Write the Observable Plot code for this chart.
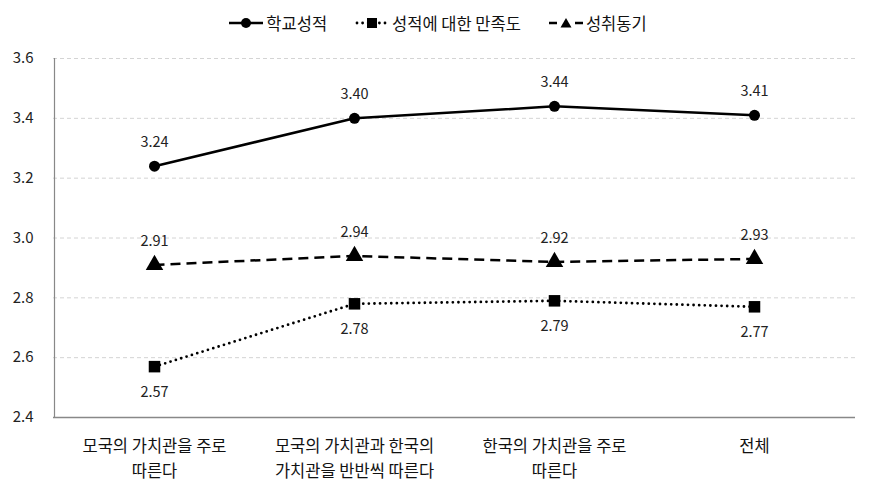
<!DOCTYPE html>
<html><head><meta charset="utf-8">
<script src="https://cdn.jsdelivr.net/npm/d3@7"></script>
<script src="https://cdn.jsdelivr.net/npm/@observablehq/plot@0.6"></script>
<style>
body{margin:0;background:#fff;font-family:"Malgun Gothic","Noto Sans CJK KR",sans-serif;}
#legend{height:45px;display:flex;justify-content:center;align-items:center;gap:28px;font-size:16.5px;color:#111;padding-left:4px;box-sizing:border-box;}
#legend span.item{display:flex;align-items:center;gap:3px;}
</style></head>
<body>
<div id="legend"></div>
<div id="chart"></div>
<script>
const categories = ["모국의 가치관을 주로\n따른다","모국의 가치관과 한국의\n가치관을 반반씩 따른다","한국의 가치관을 주로\n따른다","전체"];
const seriesNames = ["학교성적","성적에 대한 만족도","성취동기"];
const grades = [3.24, 3.40, 3.44, 3.41];
const satisfaction = [2.57, 2.78, 2.79, 2.77];
const motivation = [2.91, 2.94, 2.92, 2.93];
const yTicks = [2.4, 2.6, 2.8, 3.0, 3.2, 3.4, 3.6];

const styles = {
  "학교성적": {dash: null, width: 2.5, cap: "butt", symbol: "circle", r: 5.5, labelDy: -24},
  "성적에 대한 만족도": {dash: "0,5.6", width: 2.8, cap: "round", symbol: "square", r: 6.5, labelDy: 26},
  "성취동기": {dash: "10,6", width: 2.5, cap: "butt", symbol: "triangle", r: 6.5, labelDy: -24}
};
const valuesBySeries = [grades, satisfaction, motivation];
const data = [];
seriesNames.forEach((s, i) => categories.forEach((c, j) => data.push({series: s, cat: c, value: valuesBySeries[i][j]})));

// legend
const legend = document.getElementById("legend");
seriesNames.forEach(s => {
  const st = styles[s];
  const item = document.createElement("span"); item.className = "item";
  let marker, lineSvg;
  if (st.symbol === "circle") marker = `<circle cx="17" cy="9" r="5" fill="#000"/>`;
  else if (st.symbol === "square") marker = `<rect x="12" y="4" width="10" height="10" fill="#000"/>`;
  else marker = `<path d="M17,4 L22.5,13.5 L11.5,13.5 Z" fill="#000"/>`;
  if (st.symbol === "square") lineSvg = `<line x1="2" x2="32" y1="9" y2="9" stroke="#000" stroke-width="2.8" stroke-linecap="round" stroke-dasharray="0,5.6"/>`;
  else if (st.symbol === "triangle") lineSvg = `<line x1="0" x2="34" y1="9" y2="9" stroke="#000" stroke-width="2.5" stroke-dasharray="8,18"/>`;
  else lineSvg = `<line x1="0" x2="34" y1="9" y2="9" stroke="#000" stroke-width="2.5"/>`;
  item.innerHTML = `<svg width="34" height="18">${lineSvg}${marker}</svg><span>${s}</span>`;
  legend.appendChild(item);
});

const font = '"Malgun Gothic","Noto Sans CJK KR",sans-serif';
const marks = [
  Plot.gridY(yTicks.filter(d => d > 2.4), {stroke: "#d4d4d4", strokeOpacity: 1, strokeDasharray: "4,3", strokeWidth: 1}),
  Plot.axisY({ticks: yTicks, tickFormat: d => d.toFixed(1), tickSize: 0, tickPadding: 20, fontSize: 15, fill: "#222", label: null}),
  Plot.axisX({tickSize: 0, tickPadding: 16, fontSize: 16.5, fill: "#111", lineHeight: 1.55, label: null}),
  Plot.ruleX([0], {x: () => categories[0], dx: -100, y1: 2.4, y2: 3.6, stroke: "#888", strokeWidth: 1.2}),
  Plot.ruleY([2.4], {stroke: "#888", strokeWidth: 1.5})
];
seriesNames.forEach(s => {
  const st = styles[s];
  const d = data.filter(e => e.series === s);
  marks.push(Plot.line(d, {x: "cat", y: "value", stroke: "#000", strokeWidth: st.width, strokeDasharray: st.dash, strokeLinecap: st.cap, curve: "linear"}));
  marks.push(Plot.dot(d, {x: "cat", y: "value", symbol: () => st.symbol, r: st.r, fill: "#000", stroke: "none"}));
  marks.push(Plot.text(d, {x: "cat", y: "value", text: e => e.value.toFixed(2), dy: st.labelDy, fontSize: 14.5, fill: "#222"}));
});

const chart = Plot.plot({
  width: 872, height: 448,
  marginTop: 13, marginBottom: 76, marginLeft: 53, marginRight: 17,
  style: {fontFamily: font, background: "#fff"},
  x: {type: "band", domain: categories, padding: 0},
  y: {domain: [2.4, 3.6]},
  symbol: {type: "ordinal", domain: ["circle","square","triangle"], range: ["circle","square","triangle"]},
  marks
});
document.getElementById("chart").appendChild(chart);
</script>
</body></html>
